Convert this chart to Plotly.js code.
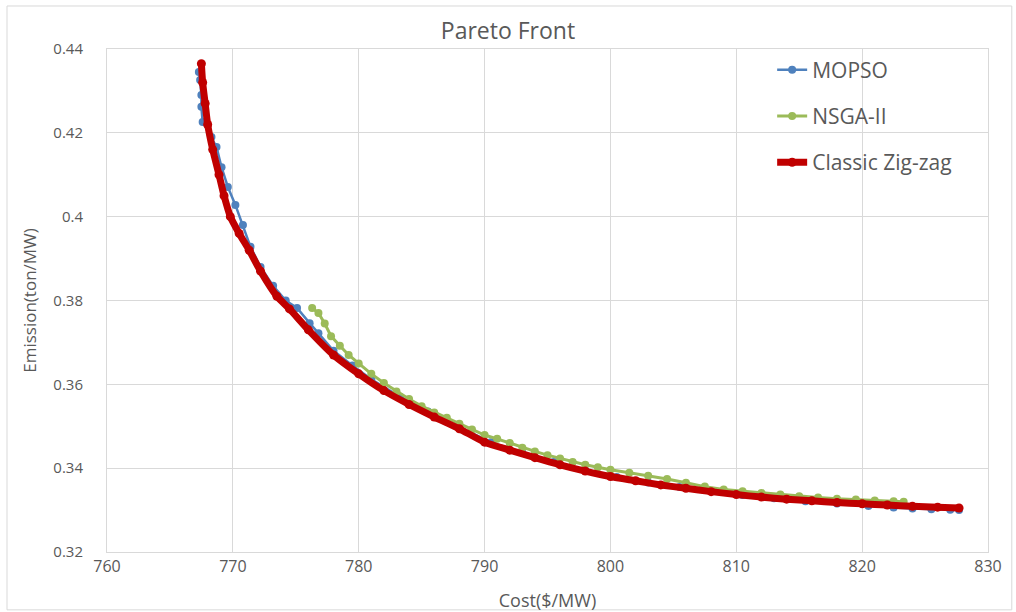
<!DOCTYPE html>
<html>
<head>
<meta charset="utf-8">
<script src="https://cdn.plot.ly/plotly-3.0.1.min.js"></script>
<style>html,body{margin:0;padding:0;background:#fff;}#chart{width:1016px;height:612px;}</style>
</head>
<body>
<div id="chart"></div>
<script>
// MOPSO
const mopsoCost = [767.3,767.4,767.5,767.5,767.6,768.3,768.7,769.1,769.6,770.2,770.8,771.4,772.2,773.2,774.2,775.1,776.1,776.8,778.0,779.5,781.0,783.3,785.5,788.0,790.5,793.0,795.5,798.0,800.5,803.0,805.5,808.0,810.5,813.0,815.5,818.0,820.5,822.5,824.0,825.5,827.0,827.7];
const mopsoEmission = [0.4345,0.4326,0.4290,0.4262,0.4226,0.4190,0.4166,0.4118,0.4071,0.4028,0.3980,0.3928,0.3880,0.3835,0.3800,0.3782,0.3746,0.3722,0.3680,0.3645,0.3612,0.3570,0.3535,0.3498,0.3462,0.3437,0.3415,0.3395,0.3379,0.3366,0.3355,0.3345,0.3336,0.3328,0.3321,0.3316,0.3310,0.3306,0.3304,0.3302,0.3301,0.3300];
// NSGA-II
const nsgaCost = [776.3,776.8,777.3,777.8,778.5,779.2,780.0,781.0,782.0,783.0,784.0,785.0,786.0,787.0,788.0,789.0,790.0,791.0,792.0,793.0,794.0,795.0,796.0,797.0,798.0,799.0,800.0,801.5,803.0,804.5,806.0,807.5,809.0,810.5,812.0,813.5,815.0,816.5,818.0,819.5,821.0,822.5,823.3];
const nsgaEmission = [0.3782,0.3770,0.3745,0.3715,0.3692,0.3670,0.3650,0.3625,0.3603,0.3583,0.3565,0.3548,0.3533,0.3520,0.3506,0.3492,0.3479,0.3470,0.3460,0.3449,0.3440,0.3431,0.3423,0.3415,0.3408,0.3402,0.3396,0.3389,0.3382,0.3374,0.3365,0.3356,0.3349,0.3345,0.3341,0.3337,0.3333,0.3330,0.3327,0.3325,0.3323,0.3321,0.3320];
// Classic Zig-zag
const zigCost = [767.5,767.6,767.8,768.0,768.4,768.9,769.3,769.8,770.5,771.3,772.2,773.5,774.5,776.0,778.0,780.0,782.0,784.0,786.0,788.0,790.0,792.0,794.0,796.0,798.0,800.0,802.0,804.0,806.0,808.0,810.0,812.0,814.0,816.0,818.0,820.0,822.0,824.0,826.0,827.7];
const zigEmission = [0.4365,0.4320,0.4270,0.4220,0.4160,0.4100,0.4050,0.4000,0.3960,0.3920,0.3870,0.3810,0.3780,0.3730,0.3670,0.3625,0.3585,0.3552,0.3522,0.3494,0.3462,0.3443,0.3425,0.3408,0.3393,0.3380,0.3370,0.3360,0.3352,0.3344,0.3337,0.3331,0.3326,0.3322,0.3318,0.3315,0.3312,0.3309,0.3307,0.3305];

const xTicks = [760,770,780,790,800,810,820,830];
const yTicks = [0.32,0.34,0.36,0.38,0.40,0.42,0.44];
const yTickText = ['0.32','0.34','0.36','0.38','0.4','0.42','0.44'];

const traces = [
  {x: mopsoCost, y: mopsoEmission, name: 'MOPSO', mode: 'lines+markers', legendgroup: 'a',
   line: {color: '#4F81BD', width: 2.5}, marker: {color: '#4F81BD', size: 8}},
  {x: nsgaCost, y: nsgaEmission, name: 'NSGA-II', mode: 'lines+markers', legendgroup: 'b',
   line: {color: '#9BBB59', width: 3}, marker: {color: '#9BBB59', size: 8}},
  {x: zigCost, y: zigEmission, name: 'Classic Zig-zag', mode: 'lines+markers', legendgroup: 'c',
   line: {color: '#C00000', width: 7, shape: 'spline', smoothing: 0.6}, marker: {color: '#C00000', size: 9}}
];

const layout = {
  width: 1016, height: 612,
  margin: {l: 107, r: 28, t: 49, b: 60, pad: 0},
  paper_bgcolor: '#ffffff', plot_bgcolor: '#ffffff',
  font: {family: 'Open Sans, sans-serif', color: '#595959'},
  title: {text: 'Pareto Front', x: 0.5, xanchor: 'center', y: 0.949, yanchor: 'middle',
          font: {family: 'Open Sans, sans-serif', size: 23, color: '#595959'}},
  xaxis: {range: [760, 830], tickvals: xTicks, ticktext: xTicks.map(String), showgrid: true,
          gridcolor: '#D9D9D9', gridwidth: 1, showline: true, mirror: true, linecolor: '#D9D9D9',
          zeroline: false, ticks: '', tickfont: {size: 16, color: '#595959'},
          title: {text: 'Cost($/MW)', standoff: 18, font: {size: 18, color: '#595959'}}},
  yaxis: {range: [0.32, 0.44], tickvals: yTicks, ticktext: yTickText, showgrid: true,
          gridcolor: '#D9D9D9', gridwidth: 1, showline: true, mirror: true, linecolor: '#D9D9D9',
          zeroline: false, ticks: '', ticklabelstandoff: 20, tickfont: {size: 15, color: '#595959'},
          title: {text: 'Emission(ton/MW)', standoff: 12, font: {size: 17, color: '#595959'}}},
  showlegend: true,
  legend: {x: 0.755, xanchor: 'left', y: 0.999, yanchor: 'top', bgcolor: 'rgba(255,255,255,0)',
           font: {size: 21, color: '#595959'}, tracegroupgap: 16, traceorder: 'grouped'},
  shapes: [{type: 'rect', xref: 'paper', yref: 'paper', x0: -0.1135, x1: 1.027, y0: -0.115, y1: 1.0855,
            line: {color: '#D9D9D9', width: 1}, fillcolor: 'rgba(0,0,0,0)', layer: 'below'}]
};

Plotly.newPlot('chart', traces, layout, {displayModeBar: false, staticPlot: true});
</script>
</body>
</html>
